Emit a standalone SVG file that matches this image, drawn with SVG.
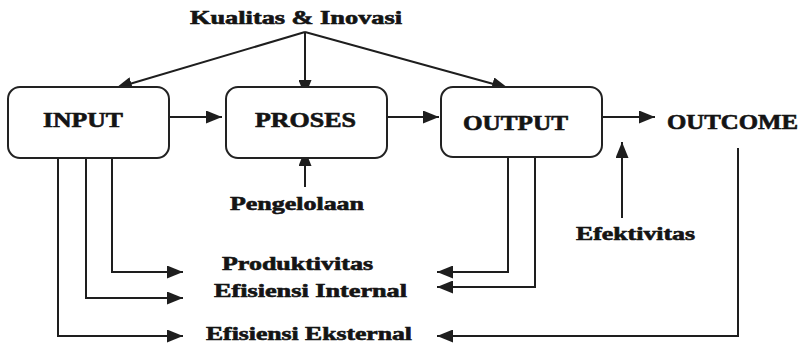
<svg xmlns="http://www.w3.org/2000/svg" width="804" height="343" viewBox="0 0 804 343">
<style>
  .box { fill: #ffffff; stroke: #222222; stroke-width: 2; }
  .lbl { font-family: "Liberation Serif", "DejaVu Serif", serif; font-weight: bold; fill: #141414; stroke: #141414; stroke-width: 0.6; }
  .big { font-size: 20px; }
  .sm { font-size: 18px; }
  .con { fill: none; stroke: #1e1e1e; stroke-width: 2; }
</style>
<defs>
  <marker id="arr" markerUnits="userSpaceOnUse" markerWidth="18" markerHeight="13" refX="16" refY="6.5" orient="auto">
    <path d="M0,0 L16,6.5 L0,13 z" fill="#1e1e1e"/>
  </marker>
</defs>
<rect width="804" height="343" fill="#ffffff"/>

<g id="connectors">
  <path class="con" d="M305,32 L116,88" marker-end="url(#arr)"/>
  <path class="con" d="M305,32 L305,96" marker-end="url(#arr)"/>
  <path class="con" d="M305,32 L508,88" marker-end="url(#arr)"/>
  <path class="con" d="M169,117 L222,117" marker-end="url(#arr)"/>
  <path class="con" d="M388,117 L439,117" marker-end="url(#arr)"/>
  <path class="con" d="M603,117 L655,117" marker-end="url(#arr)"/>
  <path class="con" d="M305,187 L305,150" marker-end="url(#arr)"/>
  <path class="con" d="M622,218 L622,142" marker-end="url(#arr)"/>
  <path class="con" d="M112,147 L112,272 L183,272" marker-end="url(#arr)"/>
  <path class="con" d="M86,147 L86,298 L183,298" marker-end="url(#arr)"/>
  <path class="con" d="M58,147 L58,336 L183,336" marker-end="url(#arr)"/>
  <path class="con" d="M508,147 L508,272 L437,272" marker-end="url(#arr)"/>
  <path class="con" d="M535,147 L535,287 L437,287" marker-end="url(#arr)"/>
  <path class="con" d="M738,148 L738,336 L437,336" marker-end="url(#arr)"/>
</g>

<g id="input">
  <rect class="box" x="8" y="87" width="161" height="71" rx="12" ry="12"/>
  <text class="lbl big" x="43" y="127" textLength="80" lengthAdjust="spacingAndGlyphs">INPUT</text>
</g>
<g id="proses">
  <rect class="box" x="226" y="87" width="161" height="71" rx="12" ry="12"/>
  <text class="lbl big" x="255" y="127" textLength="101" lengthAdjust="spacingAndGlyphs">PROSES</text>
</g>
<g id="output">
  <rect class="box" x="441" y="87" width="161" height="70" rx="12" ry="12"/>
  <text class="lbl big" x="463" y="130" textLength="105" lengthAdjust="spacingAndGlyphs">OUTPUT</text>
</g>
<g id="outcome">
  <text class="lbl big" x="667" y="129" textLength="131" lengthAdjust="spacingAndGlyphs">OUTCOME</text>
</g>
<g id="kualitas">
  <text class="lbl sm" x="190" y="24" textLength="212" lengthAdjust="spacingAndGlyphs">Kualitas &amp; Inovasi</text>
</g>
<g id="pengelolaan">
  <text class="lbl sm" x="230" y="210" textLength="134" lengthAdjust="spacingAndGlyphs">Pengelolaan</text>
</g>
<g id="efektivitas">
  <text class="lbl sm" x="576" y="240" textLength="119" lengthAdjust="spacingAndGlyphs">Efektivitas</text>
</g>
<g id="produktivitas">
  <text class="lbl sm" x="222" y="270" textLength="151" lengthAdjust="spacingAndGlyphs">Produktivitas</text>
</g>
<g id="efisiensi-internal">
  <text class="lbl sm" x="214" y="297" textLength="193" lengthAdjust="spacingAndGlyphs">Efisiensi Internal</text>
</g>
<g id="efisiensi-eksternal">
  <text class="lbl sm" x="206" y="340" textLength="206" lengthAdjust="spacingAndGlyphs">Efisiensi Eksternal</text>
</g>
</svg>
